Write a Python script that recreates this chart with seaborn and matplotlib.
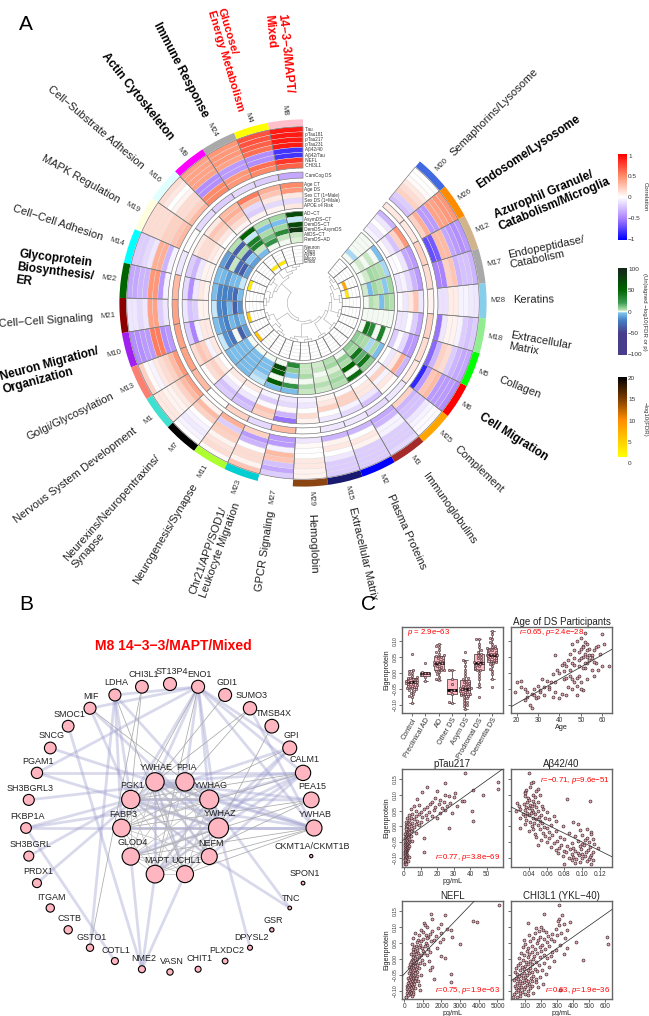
import numpy as np
import pandas as pd
import matplotlib
matplotlib.use('Agg')
import matplotlib.pyplot as plt
from matplotlib.colors import LinearSegmentedColormap, Normalize
import seaborn as sns

# ---- panel A data, modules run counter-clockwise from the top ----
modules = ['M8', 'M4', 'M24', 'M9', 'M16', 'M19', 'M14', 'M22', 'M21', 'M10', 'M13', 'M1', 'M7', 'M11', 'M23',
           'M27', 'M29', 'M15', 'M2', 'M3', 'M25', 'M6', 'M5', 'M18', 'M28', 'M17', 'M12', 'M26', 'M20']
module_colors = ['pink', 'yellow', 'darkgrey', 'magenta', 'lightcyan', 'lightyellow', 'cyan', 'darkgreen', 'darkred',
                 '#a020f0', 'salmon', 'turquoise', 'black', 'greenyellow', 'darkturquoise', 'white', 'saddlebrown',
                 'midnightblue', 'blue', 'brown', 'orange', 'red', '#00ff00', 'lightgreen', 'skyblue', 'darkgrey',
                 'tan', 'darkorange', 'royalblue']
module_names = ['14\u22123\u22123/MAPT/\nMixed', 'Glucose/\nEnergy Metabolism', 'Immune Response', 'Actin Cytoskeleton',
                'Cell\u2212Substrate Adhesion', 'MAPK Regulation', 'Cell\u2212Cell Adhesion',
                'Glycoprotein\nBiosynthesis/\nER', 'Cell\u2212Cell Signaling', 'Neuron Migration/\nOrganization',
                'Golgi/Glycosylation', 'Nervous System Development', 'Neurexins/Neuropentraxins/\nSynapse',
                'Neurogenesis/Synapse', 'Chr21/APP/SOD1/\nLeukocyte Migration', 'GPCR Signaling', 'Hemoglobin',
                'Extracellular Matrix', 'Plasma Proteins', 'Immunoglobulins', 'Complement', 'Cell Migration',
                'Collagen', 'Extracellular\nMatrix', 'Keratins', 'Endopeptidase/\nCatabolism',
                'Azurophil Granule/\nCatabolism/Microglia', 'Endosome/Lysosome', 'Semaphorins/Lysosome']
bold_modules = ['M8', 'M4', 'M24', 'M9', 'M22', 'M10', 'M6', 'M12', 'M26']
red_modules = ['M8', 'M4']

biomarker_rows = ['Tau', 'pTau181', 'pTau217', 'pTau231', 'A\u03b242/40', 'A\u03b242/Tau', 'NEFL', 'CHI3L1']
biomarker_corr = [
    [.9, .9, .9, .9, -.8, -.8, .8, .65], [.7, .7, .65, .6, -.45, -.45, .6, .5],
    [.45, .45, .45, .4, -.4, -.4, .45, .45], [.4, .4, .4, .4, -.45, -.45, .5, .5],
    [.15, .1, 0, .05, .15, .15, .2, .3], [.15, .15, .15, .15, .2, .2, .25, .3],
    [-.2, -.2, -.15, -.1, .35, .35, -.3, -.05], [-.35, -.35, -.3, -.3, .45, .45, -.4, -.05],
    [-.1, -.1, -.15, -.1, .4, .4, -.2, -.1], [-.45, -.45, -.4, -.4, .55, .55, -.45, -.4],
    [.2, .02, -.04, .1, .15, .2, .3, .45], [.1, .1, .05, .05, .1, .2, .3, .4],
    [0, -.05, -.08, -.05, 0, .2, .3, .05], [.03, .15, .12, .05, .2, .22, -.2, .35],
    [.25, .05, .15, .15, 0, -.3, -.4, .2], [-.2, -.35, -.25, .25, .3, -.05, -.4, -.4],
    [.05, .06, .1, .1, 0, 0, .03, -.1], [-.2, -.2, -.2, -.1, 0, .1, .05, -.3],
    [-.2, -.2, -.2, -.2, .05, .1, 0, -.3], [-.15, -.2, -.2, -.2, -.05, -.05, -.3, -.35],
    [-.02, -.02, -.05, -.1, -.25, -.25, -.3, .2], [-.45, -.4, -.4, -.4, .3, .25, -.4, -.85],
    [-.35, -.35, -.3, -.2, .15, .2, -.3, -.6], [-.2, -.25, -.2, -.05, .05, .05, -.1, -.55],
    [-.1, -.08, -.05, -.05, .08, .08, -.12, -.12], [-.3, -.25, -.25, -.3, .25, .2, -.5, -.5],
    [-.4, -.45, -.4, -.35, .3, .3, -.65, -.7], [.45, .45, .4, .4, -.4, -.4, .35, .2],
    [0, 0, .03, .1, .15, .2, -.2, -.25]]

camcog_row = ['CamCog DS']
camcog_corr = [-.35, -.2, -.15, -.2, -.15, 0, -.1, .3, .4, .4, .4, .3, 0, .2, -.15, .3, 0, -.1, -.1, -.15, -.1, .1,
               .15, .2, .05, .15, .2, .1, .1]

trait_rows = ['Age CT', 'Age DS', 'Sex CT (1=Male)', 'Sex DS (1=Male)', 'APOE \u03b54 Risk']
trait_corr = [
    [.5, .45, .1, -.15, .1], [.35, .25, .1, -.15, .05], [.55, .3, -.15, -.2, .05], [.3, .35, .25, .15, .05],
    [.1, .25, .2, .1, 0], [.1, .15, .15, .1, .05], [-.2, -.3, -.1, .05, .05], [-.15, -.45, -.1, .1, .05],
    [-.1, -.25, -.2, .05, .05], [-.2, -.5, -.05, .1, .1], [.15, .25, .2, -.05, .1], [.02, .15, .2, .1, 0],
    [-.2, -.25, -.1, .02, .1], [-.25, -.3, -.1, -.02, .1], [.2, .25, -.02, -.2, -.05], [-.55, -.3, .02, -.15, -.1],
    [.05, .15, 0, -.1, -.05], [-.1, 0, .2, .1, .05], [-.15, -.05, .2, .2, -.02], [-.25, -.1, .1, .1, 0],
    [.02, .1, -.05, .2, -.05], [-.3, .35, .1, -.1, 0], [-.4, -.4, -.15, -.02, -.2], [-.35, -.2, 0, -.1, -.1],
    [-.1, .25, .1, -.1, -.02], [-.4, -.3, -.15, -.05, -.1], [-.4, -.35, -.1, 0, -.02], [.45, .2, -.25, -.1, .02],
    [-.3, -.1, 0, -.1, -.05]]

contrast_rows = ['AD\u2212CT', 'AsymDS\u2212CT', 'DemDS\u2212CT', 'DemDS\u2212AsymDS', 'AllDS\u2212CT', 'RemDS\u2212AD']
contrast_logp = [
    [70, -1.5, 70, 85, 3, 1.5], [6, -4, 6, 30, 3, 0], [4, -5, 5, 12, 25, 0], [50, -1.5, 35, 35, 3, -5],
    [4, -35, 5, -35, -3, -12], [-12, -30, 3, -30, -35, -12], [-4, -6, -12, -5, -5, -1.5], [-4, -18, -20, -20, -30, -4],
    [-1.5, -18, -20, -6, -35, -15], [-4, -15, -20, -6, -12, -4], [-1.5, -15, -25, 0, -35, -12], [-5, -4, -5, -5, -4, 0],
    [-5, -5, -5, -5, -4, 0], [-1.5, -2, -4, -4, -4, 0], [-4, 55, 0, 60, 70, 0], [-4, 25, 0, -3, 8, 30],
    [3, 5, 0, 5, 3, 3], [2, 4, 1.5, 0, 3, 2], [4, 6, 4, 1.5, 6, 4], [45, 0, 50, 5, 8, 0],
    [8, 40, 15, 40, 6, 8], [-4, 5, -2, 5, 6, 8], [0, 35, 0, 30, 40, 0], [0, 0, 0, 0, 0, 0],
    [4, 6, -4, 3, 4, 0], [6, -3, 4, 6, -5, 2], [-2, 4, 5, 6, 2, 0], [-4, 0, 3, 0, 2, 0], [0, 0, 0, 0, -2, 0]]

celltype_rows = ['Neuron', 'Oligo', 'Astro', 'Micro', 'Endo']
celltype_logfdr = [[0, 0, 0, 0, 0] for _ in modules]
celltype_logfdr[2][3] = 3
celltype_logfdr[3][3] = 3
celltype_logfdr[6][0] = 3
celltype_logfdr[9][0] = 5
celltype_logfdr[11][0] = 6
celltype_logfdr[25][3] = 3
celltype_logfdr[26][3] = 8

# dendrogram merges over module indices
module_tree = (((((0, 1), 2), 3), ((4, 5), (6, (7, 8)))),
               (((9, 10), (11, (12, 13))), (((14, 15), (16, 17)), ((18, 19), ((20, 21), ((22, 23), ((24, 25), (26, (27, 28)))))))))

# ---- panel B data ----
outer_nodes = ['YWHAB', 'CKMT1A/CKMT1B', 'SPON1', 'TNC', 'GSR', 'DPYSL2', 'PLXDC2', 'CHIT1', 'VASN', 'NME2', 'COTL1',
               'GSTO1', 'CSTB', 'ITGAM', 'PRDX1', 'SH3BGRL', 'FKBP1A', 'SH3BGRL3', 'PGAM1', 'SNCG', 'SMOC1', 'MIF',
               'LDHA', 'CHI3L1', 'ST13P4', 'ENO1', 'GDI1', 'SUMO3', 'TMSB4X', 'GPI', 'CALM1', 'PEA15']
outer_size = [16, 3.3, 3.7, 3.7, 4.3, 5, 5.7, 6, 6.3, 7, 7, 7.3, 8.3, 8.3, 9, 10, 10.7, 11, 11.3, 11.7, 11.7, 12,
              12, 12.7, 13, 13, 13, 13.3, 13.7, 14, 15.3, 15.7]
inner_nodes = ['YWHAZ', 'YWHAG', 'PPIA', 'YWHAE', 'PGK1', 'FABP3', 'GLOD4', 'MAPT', 'UCHL1', 'NEFM']
inner_size = [20, 19, 18.3, 18.3, 18.3, 17.7, 17.3, 17.7, 17, 16]
thick_edges = [('ENO1', 'YWHAE'), ('ENO1', 'PPIA'), ('ENO1', 'YWHAG'), ('ENO1', 'PGK1'), ('ENO1', 'MIF'), ('ENO1', 'LDHA'),
               ('ENO1', 'YWHAB'), ('ENO1', 'YWHAZ'), ('ENO1', 'CALM1'), ('ENO1', 'GPI'), ('LDHA', 'PGK1'), ('LDHA', 'FABP3'),
               ('LDHA', 'YWHAG'), ('LDHA', 'GSTO1'), ('PGAM1', 'CALM1'), ('PGAM1', 'ENO1'), ('PGAM1', 'YWHAZ'),
               ('FKBP1A', 'YWHAB'), ('FKBP1A', 'PGK1'), ('FKBP1A', 'COTL1'), ('FKBP1A', 'YWHAG'), ('SH3BGRL', 'PGK1'),
               ('PRDX1', 'YWHAE'), ('SMOC1', 'NME2'), ('MIF', 'PGK1'), ('MIF', 'YWHAZ'), ('NME2', 'MAPT'), ('NME2', 'UCHL1'),
               ('NME2', 'GLOD4'), ('DPYSL2', 'YWHAZ'), ('TNC', 'NEFM'), ('TNC', 'YWHAG'), ('SUMO3', 'YWHAB'), ('GPI', 'YWHAZ'),
               ('CALM1', 'YWHAE'), ('CALM1', 'YWHAG'), ('CALM1', 'YWHAZ'), ('CALM1', 'GLOD4'), ('PEA15', 'PGK1'),
               ('PEA15', 'YWHAE'), ('YWHAB', 'YWHAE'), ('YWHAB', 'PGK1'), ('YWHAB', 'YWHAZ'), ('YWHAB', 'YWHAG'),
               ('YWHAB', 'PPIA'), ('GPI', 'MAPT'), ('GPI', 'PGK1'), ('NEFM', 'CALM1'), ('SNCG', 'YWHAG'),
               ('SH3BGRL3', 'PPIA'), ('YWHAE', 'YWHAZ'), ('YWHAE', 'YWHAG'), ('YWHAG', 'YWHAZ'), ('PGK1', 'YWHAZ'),
               ('PGK1', 'YWHAG'), ('PGK1', 'NEFM'), ('FABP3', 'YWHAZ'), ('MAPT', 'YWHAG'), ('MAPT', 'YWHAE'),
               ('UCHL1', 'YWHAE'), ('UCHL1', 'YWHAZ'), ('NEFM', 'YWHAE'), ('GLOD4', 'YWHAZ'), ('MAPT', 'YWHAZ')]
thin_edges = [('CHI3L1', 'PGK1'), ('MIF', 'YWHAG'), ('GDI1', 'YWHAE'), ('SUMO3', 'PPIA'), ('SUMO3', 'YWHAE'),
              ('TMSB4X', 'YWHAZ'), ('ENO1', 'MAPT'), ('ENO1', 'FABP3'), ('GPI', 'FABP3'), ('CALM1', 'PGK1'),
              ('CALM1', 'FABP3'), ('PEA15', 'FABP3'), ('PEA15', 'GLOD4'), ('PEA15', 'MAPT'), ('YWHAB', 'GLOD4'),
              ('YWHAB', 'NEFM'), ('YWHAB', 'UCHL1'), ('LDHA', 'UCHL1'), ('CHI3L1', 'GSTO1')]

# ---- panel C data ----
box_groups = ['Control', 'Preclinical AD', 'AD', 'Other DS', 'Asym DS', 'Prodromal DS', 'Dementia DS']
control = [.058, .008, .005, 0, -.005, -.01, -.013, -.015, -.018, -.02, -.021, -.023, -.025, -.027, -.028, -.03, -.03,
           -.032, -.034, -.036, -.038, -.041, -.044, -.047, -.049, -.052, -.055, -.058, -.062, -.067, -.072, -.075, -.094]
preclinical = [.03, .001, 0, -.002, -.008, -.012, -.025]
ad_group = [.09, .085, .08, .07, .065, .06, .055, .052, .05, .045, .04, .037, .034, .032, .03, .028, .025, .022, .018,
            .014, .01, .008, .006, .003, -.005, -.012, -.02, -.023]
other_ds = [.01, .008, -.02, -.035, -.055, -.057, -.065, -.09, -.094]
asym_ds = [.065, .04, .035, .02, .01, 0, -.01, -.018, -.021, -.025, -.03, -.033, -.036, -.04, -.043, -.046, -.048,
           -.049, -.05, -.052, -.055, -.057, -.06, -.062, -.065, -.067, -.07, -.072, -.075, -.08, -.085, -.09, -.095,
           -.1, -.105, -.113]
prodromal_ds = [.105, .104, .09, .08, .07, .065, .06, .055, .05, .045, .04, .035, .032, .03, .028, .025, .02, .015, .01,
                .008, 0, -.01, -.02, -.035, -.046, -.077]
dementia_ds = [.13, .12, .11, .105, .095, .09, .085, .08, .078, .076, .072, .07, .066, .062, .06, .058, .057, .055, .052,
               .05, .047, .044, .04, .036, .033, .03, .027, .02, .012, .005, -.005, -.02, -.044]

age_ds = [19, 20, 22, 22, 24, 25, 25, 26, 27, 27,
          28, 29, 30, 30, 31, 32, 33, 34, 35, 36,
          37, 37, 38, 38, 39, 40, 40, 41, 42, 42,
          43, 43, 44, 45, 45, 46, 46, 47, 47, 48,
          48, 49, 49, 50, 50, 50, 51, 51, 51, 52,
          52, 52, 53, 53, 53, 54, 54, 55, 55, 56,
          56, 57, 57, 58, 58, 59, 60, 60, 61, 63,
          44, 46, 48, 49, 50, 51, 52, 53, 54, 55,
          38, 41, 43, 45, 47, 49, 50, 51, 52, 48,
          24, 28, 31, 33, 35, 47, 53, 56, 42, 46]
eigen_ds = [-.06, -.03, -.045, -.025, -.085, -.06, -.075, -.1, -.065, -.11,
            -.05, -.08, -.04, -.075, -.06, -.02, -.07, -.025, -.045, -.03,
            -.075, -.005, -.06, .055, .01, -.08, 0, -.065, .03, -.02,
            -.07, .02, .04, -.01, .06, -.05, .09, -.03, .025, .1,
            -.07, .04, -.01, .11, .075, -.03, .05, -.055, .085, .125,
            .015, .06, .03, .09, -.02, .04, .075, .01, .055, -.01,
            .07, .03, .08, .085, .01, .06, .12, .02, .09, .02,
            -.045, -.02, -.04, .02, -.05, .015, .03, .07, .055, .045,
            -.03, .025, -.015, .01, .07, .065, .045, .08, .095, -.015,
            -.05, -.07, -.055, -.045, -.05, .045, .05, .035, .005, .03]

eigenprotein = [.17, .14, .138, .125, .12, .115, .112, .108, .105, .10,
                .098, .095, .092, .09, .088, .085, .082, .08, .078, .076,
                .074, .072, .07, .068, .066, .065, .063, .061, .06, .058,
                .056, .055, .053, .052, .05, .048, .046, .045, .043, .042,
                .04, .038, .036, .035, .033, .032, .03, .028, .026, .025,
                .023, .022, .02, .018, .016, .015, .013, .012, .01, .008,
                .006, .005, .003, .002, 0, -.002, -.004, -.005, -.007, -.008,
                -.01, -.012, -.014, -.015, -.017, -.018, -.02, -.022, -.024, -.025,
                -.027, -.028, -.03, -.032, -.033, -.035, -.036, -.038, -.04, -.041,
                -.043, -.044, -.046, -.047, -.049, -.05, -.052, -.053, -.055, -.056,
                -.058, -.059, -.06, -.062, -.063, -.065, -.066, -.068, -.069, -.07,
                -.072, -.073, -.075, -.076, -.078, -.079, -.08, -.082, -.083, -.085,
                -.086, -.088, -.089, -.09, -.092, -.094, -.095, -.097, -.098, -.10,
                -.102, -.104, -.105, -.107, -.108, -.11, -.112, -.115, -.118, -.12]
ptau217 = [37, 57, 25, 14, 57, 42, 20, 11, 31, 48,
           25, 27, 30, 19, 8, 22, 35, 36, 24, 17,
           28, 16, 21, 9, 32, 6, 26, 14, 19, 23,
           4, 12, 25, 18, 7, 41, 15, 10, 22, 29,
           5, 9, 13, 3, 17, 7, 11, 20, 4, 2,
           6, 14, 3, 8, 42, 1.5, 10, 5, 2.5, 7,
           3, 1.5, 9, 4, 2, 6, 1, 27, 3, 2,
           1.5, 5, 2.5, 4, 1, 3, 2, 7, 1.5, .8,
           2, 3, 1, 4, 1.5, 2.5, 12, .8, 3, 2,
           1, 1.5, 2, 5, .8, 3, 1.2, 2.2, .6, 1.8,
           1, 2, .7, 1.4, 3, 1.1, .5, 2.4, .9, 1.6,
           1.2, .6, 2, .9, 1.5, .4, 1.1, 12, .7, 1.3,
           .5, 1, .8, 2, .4, 1.2, .6, 3, .9, .5,
           1, .4, .7, 1.5, .5, 2.5, .8, .3, .6, 1]
abeta4240 = [.04, .045, .042, .041, .05, .037, .048, .036, .035, .052,
             .044, .036, .047, .039, .083, .04, .109, .045, .038, .05,
             .026, .046, .034, .041, .055, .029, .043, .037, .048, .04,
             .03, .056, .043, .035, .05, .025, .045, .06, .038, .042,
             .033, .047, .054, .04, .068, .036, .051, .03, .044, .058,
             .048, .062, .037, .052, .071, .041, .09, .046, .055, .095,
             .035, .065, .05, .043, .078, .057, .06, .03, .105, .045,
             .052, .098, .07, .04, .063, .11, .056, .085, .047, .11,
             .066, .1, .058, .092, .075, .048, .105, .062, .112, .08,
             .054, .103, .072, .095, .06, .108, .088, .068, .1, .113,
             .076, .05, .102, .083, .097, .065, .109, .074, .118, .09,
             .099, .086, .07, .106, .079, .092, .112, .082, .104, .095,
             .073, .1, .088, .11, .096, .078, .103, .09, .109, .085,
             .1, .093, .108, .088, .112, .105, .098, .092, .11, .08]
nefl = [5100, 1450, 2200, 1500, 3700, 3900, 1050, 1950, 1100, 1200,
        1800, 2300, 900, 2500, 1500, 1000, 2000, 600, 1400, 1150,
        800, 1700, 2550, 1300, 500, 1200, 2100, 1000, 750, 1600,
        1450, 900, 700, 1900, 1150, 400, 3000, 850, 1250, 650,
        1100, 550, 800, 1750, 950, 450, 1300, 700, 1000, 600,
        500, 1400, 750, 1050, 350, 650, 900, 1200, 550, 2000,
        800, 450, 600, 2200, 700, 400, 950, 500, 1350, 650,
        350, 850, 550, 300, 1050, 700, 450, 600, 250, 1500,
        500, 800, 350, 650, 1400, 400, 550, 300, 700, 450,
        250, 600, 2500, 400, 500, 900, 350, 700, 300, 550,
        200, 450, 650, 1600, 350, 500, 250, 400, 600, 750,
        300, 2500, 450, 200, 550, 350, 800, 250, 400, 150,
        500, 300, 200, 600, 350, 150, 250, 850, 400, 200,
        300, 450, 150, 350, 250, 500, 200, 400, 100, 120]
chi3l1 = [310, 215, 330, 310, 305, 380, 120, 340, 310, 200,
          170, 290, 210, 360, 185, 230, 325, 160, 270, 125,
          300, 240, 610, 195, 150, 350, 260, 215, 90, 180,
          280, 130, 420, 235, 175, 620, 100, 315, 205, 145,
          250, 85, 190, 360, 120, 225, 160, 295, 110, 200,
          140, 270, 75, 175, 340, 125, 215, 95, 260, 155,
          115, 190, 60, 235, 150, 85, 460, 130, 280, 105,
          170, 70, 215, 120, 145, 55, 185, 100, 250, 80,
          130, 45, 160, 95, 205, 115, 65, 175, 140, 35,
          90, 125, 50, 230, 110, 75, 150, 60, 195, 100,
          40, 135, 85, 170, 55, 105, 30, 145, 70, 120,
          95, 165, 50, 80, 125, 210, 60, 110, 35, 140,
          75, 100, 180, 45, 130, 60, 90, 320, 55, 115,
          80, 40, 150, 65, 100, 30, 120, 70, 50, 25]

# style
sns.set_theme(style='white')
plt.rcParams['font.family'] = ['Liberation Sans', 'DejaVu Sans']
plt.rcParams['mathtext.fontset'] = 'custom'
plt.rcParams['mathtext.rm'] = 'Liberation Sans'
plt.rcParams['mathtext.it'] = 'Liberation Sans:italic'

W, H = 649, 1016
fig = plt.figure(figsize=(W / 100, H / 100), dpi=100, facecolor='white')


def px_axes(left, top, right, bottom, **kw):
    return fig.add_axes([left / W, 1 - bottom / H, (right - left) / W, (bottom - top) / H], **kw)


corr_cmap = LinearSegmentedColormap.from_list('corr', ['#0000ff', '#ab82ff', 'white', '#ff8c69', '#ff0000'])
corr_norm = Normalize(-1, 1)
signed_cmap = LinearSegmentedColormap.from_list('signed', [
    (0, '#483d8b'), (.25, '#483d8b'), (.40, '#4680c4'), (.485, '#7fc3ee'), (.4935, '#bfe6fa'), (.5, 'white'),
    (.5065, '#d8efd0'), (.53, '#a0d6a0'), (.60, '#3d9c55'), (.75, '#006400'), (1, '#15241a')])
signed_norm = Normalize(-100, 100)
fdr_cmap = LinearSegmentedColormap.from_list('fdr', [
    (0, 'white'), (.0649, 'white'), (.065, 'yellow'), (.5, '#ff8c00'), (.75, '#7a3a00'), (1, 'black')])
fdr_norm = Normalize(0, 20)

# ---- panel A: circular heatmap ----
cx, cy, rmax = 303, 303, 192
ax = px_axes(cx - rmax, cy - rmax, cx + rmax, cy + rmax, projection='polar')
ax.set_axis_off()
step = np.deg2rad(11.05)
theta = np.pi / 2 + step * (np.arange(len(modules)) + .5)

ax.bar(theta, 6.8, width=step, bottom=175.5, color=module_colors, linewidth=0)


def draw_ring(values, r_outer, r_inner, cmap, norm, row_labels):
    values = np.array(values, dtype=float)
    if values.ndim == 1:
        values = values[:, None]
    n_rows = values.shape[1]
    dr = (r_outer - r_inner) / n_rows
    for j in range(n_rows):
        r_top = r_outer - j * dr
        ax.bar(theta, dr, width=step, bottom=r_top - dr, color=cmap(norm(values[:, j])),
               edgecolor='#dddddd', linewidth=.25)
        ax.text(np.pi / 2 - .004, r_top - dr / 2, ' ' + row_labels[j], fontsize=3.3, color='#333333',
                ha='left', va='center')
    ax.bar(theta, r_outer - r_inner, width=step, bottom=r_inner, fill=False, edgecolor='#777777', linewidth=.45)


draw_ring(biomarker_corr, 175, 134, corr_cmap, corr_norm, biomarker_rows)
draw_ring(camcog_corr, 130, 124, corr_cmap, corr_norm, camcog_row)
draw_ring(trait_corr, 120, 94, corr_cmap, corr_norm, trait_rows)
draw_ring(contrast_logp, 91, 60, signed_cmap, signed_norm, contrast_rows)
draw_ring(celltype_logfdr, 57, 39, fdr_cmap, fdr_norm, celltype_rows)


# dendrogram in the middle
def draw_tree(node):
    if isinstance(node, int):
        return theta[node], 39, 0
    t1, r1, h1 = draw_tree(node[0])
    t2, r2, h2 = draw_tree(node[1])
    h = max(h1, h2) + 1
    r = max(39 - h * 2.6, 15)
    ax.plot([t1, t1], [r1, r], color='#999999', lw=.35)
    ax.plot([t2, t2], [r2, r], color='#999999', lw=.35)
    ax.plot(np.linspace(t1, t2, 40), np.full(40, r), color='#999999', lw=.35)
    return (t1 + t2) / 2, r, h


draw_tree(module_tree)

# module names round the outside
for i, (mod, name) in enumerate(zip(modules, module_names)):
    deg = np.rad2deg(theta[i]) % 360
    left_side = 90 < deg < 270
    rot = deg - 180 if left_side else deg
    ha = 'right' if left_side else 'left'
    ax.text(theta[i], 186.5, mod, fontsize=5.6, color='#333333', rotation=rot, rotation_mode='anchor', ha=ha, va='center')
    bold = mod in bold_modules
    # the long red label sits closer in so it stays on the page
    name_r = 200 if mod == 'M4' else 209
    ax.text(theta[i], name_r, name, fontsize=8.2 if mod == 'M4' else (8.6 if bold else 8),
            fontweight='bold' if bold else 'normal',
            color='red' if mod in red_modules else ('black' if bold else '#222222'), rotation=rot,
            rotation_mode='anchor', ha=ha, va='center', multialignment='left', linespacing=1.1)

# colour keys
key_ax = px_axes(618.3, 154.3, 626.7, 240)
key_ax.pcolormesh([0, 1], np.linspace(-1.03, 1.03, 201), np.linspace(-1, 1, 200)[:, None], cmap=corr_cmap, norm=corr_norm)
key_ax.set_yticks([-1, -.5, 0, .5, 1], ['\u22121', '\u22120.5', '0', '0.5', '1'])
key_ax2 = px_axes(618.3, 268, 626.7, 355)
key_ax2.pcolormesh([0, 1], np.linspace(-103, 103, 401), np.linspace(-100, 100, 400)[:, None], cmap=signed_cmap, norm=signed_norm)
key_ax2.set_yticks([-100, -50, 0, 50, 100], ['\u2212100', '\u221250', '0', '50', '100'])
key_ax3 = px_axes(618.3, 376.7, 626.7, 462.7)
key_ax3.pcolormesh([0, 1], np.linspace(0, 20.4, 201), np.linspace(0, 20, 200)[:, None], cmap=fdr_cmap, norm=fdr_norm)
key_ax3.set_yticks([0, 5, 10, 15, 20], ['0', '5', '10', '15', '20'])
key_titles = ['Correlation', '(Un)signed \u2212log10(FDR or p)', '\u2212log10(FDR)']
for k_ax, title in zip([key_ax, key_ax2, key_ax3], key_titles):
    k_ax.set_xticks([])
    sns.despine(ax=k_ax, left=True, bottom=True)
    k_ax.tick_params(axis='y', direction='in', left=True, right=True, labelleft=False, labelright=True, length=2,
                     width=.5, color='white', labelsize=4.6, labelcolor='#333333', pad=1)
    box = k_ax.get_position()
    fig.text(645 / W, (box.y0 + box.y1) / 2, title, fontsize=4.3, color='#333333', rotation=270, ha='center', va='center')

# ---- panel B: network ----
net_ax = px_axes(0, 630, 340, 1016)
net_ax.set_xlim(-170, 170)
net_ax.set_ylim(-188, 198)
net_ax.set_axis_off()

outer_angle = np.arange(len(outer_nodes)) * 2 * np.pi / len(outer_nodes)
inner_angle = np.arange(len(inner_nodes)) * 2 * np.pi / len(inner_nodes)
net = pd.DataFrame({
    'gene': outer_nodes + inner_nodes,
    'x': np.r_[144 * np.cos(outer_angle), 48.5 * np.cos(inner_angle)],
    'y': np.r_[-144 * np.sin(outer_angle), 48.5 * np.sin(inner_angle)],
    'diam': outer_size + inner_size}).set_index('gene')

for a, b in thick_edges:
    net_ax.plot(net.loc[[a, b], 'x'], net.loc[[a, b], 'y'], color='#9c9ccf', alpha=.38, lw=2, solid_capstyle='butt', zorder=1)
for a, b in thin_edges:
    net_ax.plot(net.loc[[a, b], 'x'], net.loc[[a, b], 'y'], color='#aaaaaa', lw=.55, zorder=2)
for i, a in enumerate(inner_nodes):
    for b in inner_nodes[i + 1:]:
        net_ax.plot(net.loc[[a, b], 'x'], net.loc[[a, b], 'y'], color='#bbbbbb', lw=.5, zorder=2)

sns.scatterplot(data=net, x='x', y='y', s=(net['diam'] * .72) ** 2, color='#ffb6c1', edgecolor='black', linewidth=.8,
                ax=net_ax, zorder=3, legend=False)
net_ax.set_xlabel('')
net_ax.set_ylabel('')
for gene, row in net.iterrows():
    net_ax.text(row['x'] + 1.5, row['y'] + 8.5 + .3 * row['diam'], gene, fontsize=6.5, color='#222222',
                ha='center', va='center', zorder=4)
fig.text(173 / W, 1 - 646 / H, 'M8 14\u22123\u22123/MAPT/Mixed', color='red', fontweight='bold', fontsize=10, ha='center', va='center')

for letter, lx, ly in [('A', 26, 24), ('B', 26, 604), ('C', 369, 604)]:
    fig.text(lx / W, 1 - ly / H, letter, fontsize=15, color='black', ha='center', va='center')


# ---- panel C ----
def style_panel(p_ax, xticks, xticklabels, yticks, show_ylabels, title, xlabel):
    p_ax.set_xticks(xticks, xticklabels)
    p_ax.set_yticks(yticks)
    if show_ylabels:
        p_ax.set_yticklabels(['%.2f' % t if t >= 0 else '\u2212%.2f' % -t for t in yticks], rotation=90, va='center')
        p_ax.set_ylabel('Eigenprotein', fontsize=5.2, labelpad=1.5, color='#222222')
    else:
        p_ax.set_yticklabels([])
        p_ax.set_ylabel('')
    p_ax.tick_params(axis='x', direction='out', length=2, width=.5, color='#333333', labelsize=4.7,
                     labelcolor='#333333', pad=1, bottom=True)
    p_ax.tick_params(axis='y', direction='out', length=2, width=.5, color='#333333', labelsize=3.6,
                     labelcolor='#333333', pad=1, left=True)
    p_ax.set_title(title, fontsize=7, pad=1.5, color='#222222')
    p_ax.set_xlabel(xlabel, fontsize=5.2, labelpad=0, color='#222222')
    for spine in p_ax.spines.values():
        spine.set_edgecolor('#666666')
        spine.set_linewidth(1)


def scatter_panel(p_ax, x, y, xlim, ylim, slope, intercept, note, note_xy):
    sns.scatterplot(x=x, y=y, s=4.5, color='#e5a9b4', edgecolor='#3a2528', linewidth=.45, ax=p_ax, legend=False, zorder=2)
    p_ax.axline((0, intercept), slope=slope, color='#333333', lw=.55, zorder=3)
    p_ax.set_xlim(*xlim)
    p_ax.set_ylim(*ylim)
    p_ax.text(note_xy[0], note_xy[1], note, transform=p_ax.transAxes, color='red', fontsize=5.6, ha='right', va='center')


tick_top = [-.10, -.05, 0, .05, .10]
tick_low = [-.10, -.05, 0, .05, .10, .15]
left_col = (401.7, 502.7)
right_col = (510.7, 612.3)

box_df = pd.DataFrame({
    'group': sum([[g] * len(v) for g, v in zip(box_groups, [control, preclinical, ad_group, other_ds, asym_ds, prodromal_ds, dementia_ds])], []),
    'value': control + preclinical + ad_group + other_ds + asym_ds + prodromal_ds + dementia_ds})
box_ax = px_axes(left_col[0], 627, left_col[1], 712.7)
sns.boxplot(data=box_df, x='group', y='value', order=box_groups, color='#ffb6c1', linecolor='#333333', linewidth=.5,
            width=.75, fliersize=0, saturation=1, medianprops={'linewidth': 2, 'color': 'black'}, ax=box_ax)
sns.swarmplot(data=box_df, x='group', y='value', order=box_groups, size=1.7, color='#e5a9b4', edgecolor='#3a2528',
              linewidth=.4, ax=box_ax, zorder=3, warn_thresh=1)
box_ax.set_xlim(-.75, 6.78)
box_ax.set_ylim(-.125, .143)
style_panel(box_ax, range(7), box_groups, tick_top, True, '', '')
box_ax.set_xticklabels(box_groups, rotation=60, ha='right', rotation_mode='anchor', fontsize=5.2)
box_ax.text(.05, .93, r'$\mathit{p}$ = 2.9e' + '\u221263', transform=box_ax.transAxes, color='red', fontsize=5.6, ha='left', va='center')

age_ax = px_axes(right_col[0], 627, right_col[1], 712.7)
scatter_panel(age_ax, age_ds, eigen_ds, (17.2, 64.7), (-.125, .143), .00381, -.1726,
              r'$\mathit{r}$=0.65, $\mathit{p}$=2.4e' + '\u221228', (.72, .93))
style_panel(age_ax, [20, 30, 40, 50, 60], ['20', '30', '40', '50', '60'], tick_top, False, 'Age of DS Participants', 'Age')

ptau_ax = px_axes(left_col[0], 769, left_col[1], 867.3)
scatter_panel(ptau_ax, ptau217, eigenprotein, (-1.4, 59.7), (-.130, .182), .00375, -.042,
              r'$\mathit{r}$=0.77, $\mathit{p}$=3.8e' + '\u221269', (.98, .10))
style_panel(ptau_ax, [0, 10, 20, 30, 40, 50], ['0', '10', '20', '30', '40', '50'], tick_low, True, 'pTau217', 'pg/mL')

abeta_ax = px_axes(right_col[0], 769, right_col[1], 867.3)
scatter_panel(abeta_ax, abeta4240, eigenprotein, (.0194, .1339), (-.130, .182), -1.389, .089,
              r'$\mathit{r}$=' + '\u22120.71, ' + r'$\mathit{p}$=9.6e' + '\u221251', (.98, .88))
style_panel(abeta_ax, [.04, .06, .08, .10, .12], ['0.04', '0.06', '0.08', '0.10', '0.12'], tick_low, False, 'A\u03b242/40', '')

nefl_ax = px_axes(left_col[0], 901, left_col[1], 999)
scatter_panel(nefl_ax, nefl, eigenprotein, (-130, 5280), (-.125, .181), 6.06e-5, -.047,
              r'$\mathit{r}$=0.75, $\mathit{p}$=1.9e' + '\u221263', (.98, .09))
style_panel(nefl_ax, [0, 1000, 2000, 3000, 4000, 5000], ['0', '1000', '2000', '3000', '4000', '5000'], tick_low, True, 'NEFL', 'pg/mL')

chi_ax = px_axes(right_col[0], 901, right_col[1], 999)
scatter_panel(chi_ax, chi3l1, eigenprotein, (10, 645), (-.125, .181), 3.53e-4, -.0725,
              r'$\mathit{r}$=0.63, $\mathit{p}$=1.9e' + '\u221236', (.98, .09))
style_panel(chi_ax, [100, 200, 300, 400, 500, 600], ['100', '200', '300', '400', '500', '600'], tick_low, False, 'CHI3L1 (YKL\u221240)', 'pg/mL')

fig.savefig('out.png', dpi=100)
